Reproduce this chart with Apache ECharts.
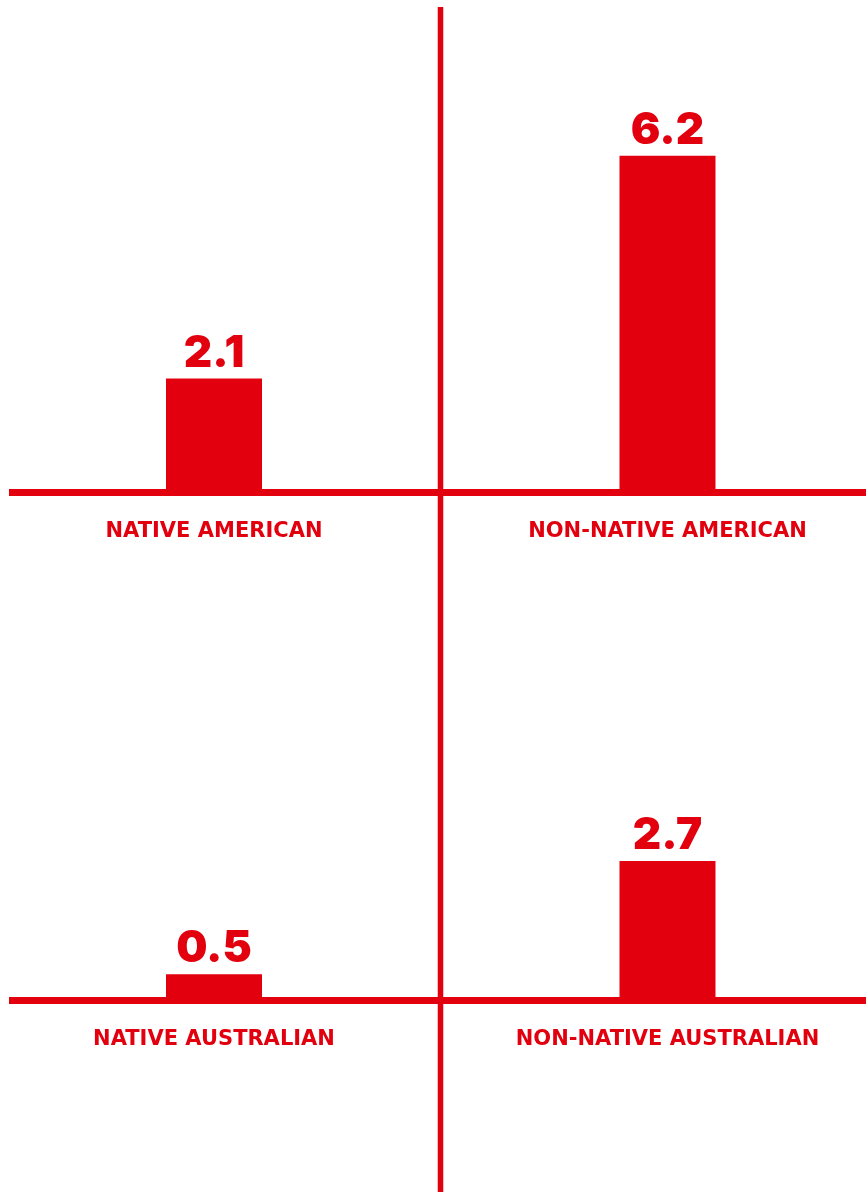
<!DOCTYPE html>
<html>
<head>
<meta charset="utf-8">
<style>
  html, body { margin: 0; padding: 0; background: #ffffff; }
  #chart { width: 866px; height: 1192px; }
</style>
<script src="https://cdn.jsdelivr.net/npm/echarts@6/dist/echarts.min.js"></script>
</head>
<body>
<div id="chart"></div>
<script>
// Average values per group, upper row (America) and lower row (Australia)
const americaCategories = ['NATIVE AMERICAN', 'NON-NATIVE AMERICAN'];
const americaValues = [2.1, 6.2];
const australiaCategories = ['NATIVE AUSTRALIAN', 'NON-NATIVE AUSTRALIAN'];
const australiaValues = [0.5, 2.7];

const RED = '#e2000f';
const chart = echarts.init(document.getElementById('chart'), null, { renderer: 'canvas' });

// Bar grids span between the two bar centres; categories sit on the axis ends
const barGrid = { left: 214, right: 198.5 };

function barSeries(values, axisIndex) {
  return {
    type: 'bar',
    xAxisIndex: axisIndex,
    yAxisIndex: axisIndex,
    data: values,
    barWidth: 96,
    clip: false,
    itemStyle: { color: RED },
    label: {
      show: true,
      position: 'top',
      distance: 3,
      color: RED,
      fontFamily: 'Inter',
      fontWeight: 900,
      fontSize: 44,
      lineHeight: 44,
      formatter: p => p.value.toFixed(1)
    },
    silent: true
  };
}

function categoryAxis(gridIndex, cats, withLine) {
  return {
    type: 'category',
    gridIndex: gridIndex,
    data: cats,
    boundaryGap: withLine,
    axisTick: { show: false },
    axisLine: withLine
      ? { show: true, lineStyle: { color: RED, width: 7, cap: 'butt' } }
      : { show: false },
    axisLabel: withLine ? { show: false } : {
      show: true,
      margin: 29,
      color: RED,
      fontFamily: 'DejaVu Sans',
      fontWeight: 700,
      fontSize: 21,
      lineHeight: 21
    }
  };
}

function valueAxis(gridIndex, max) {
  return {
    type: 'value',
    gridIndex: gridIndex,
    min: 0,
    max: max,
    show: false,
    splitLine: { show: false }
  };
}

const option = {
  backgroundColor: '#ffffff',
  animation: false,
  grid: [
    // 0, 1: bars
    { left: barGrid.left, right: barGrid.right, top: 58, bottom: 699.5 },
    { left: barGrid.left, right: barGrid.right, top: 588, bottom: 192 },
    // 2, 3: baselines
    { left: 9, right: 0, top: 58, bottom: 699.5 },
    { left: 9, right: 0, top: 588, bottom: 192 }
  ],
  xAxis: [
    categoryAxis(0, americaCategories, false),
    categoryAxis(1, australiaCategories, false),
    categoryAxis(2, americaCategories, true),
    categoryAxis(3, australiaCategories, true)
  ],
  yAxis: [
    valueAxis(0, 8),
    valueAxis(1, 8),
    valueAxis(2, 8),
    valueAxis(3, 8)
  ],
  series: [
    barSeries(americaValues, 0),
    barSeries(australiaValues, 1)
  ],
  graphic: [
    {
      type: 'line',
      shape: { x1: 440.5, y1: 7, x2: 440.5, y2: 1192 },
      style: { stroke: RED, lineWidth: 5.5, lineCap: 'butt' },
      silent: true,
      z: 10
    }
  ]
};

chart.setOption(option);
</script>
</body>
</html>
